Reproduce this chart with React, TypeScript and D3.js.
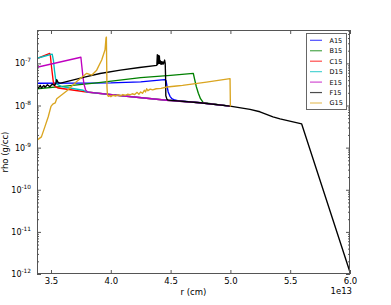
import React, { useRef, useEffect } from 'react';
import * as d3 from 'd3';

type Pt = [number, number];

// r in units of 1e13 cm, rho in g/cc
// shared tail that every model falls onto after its shell drop
const envelope: Pt[] = [
  [3.548, 2.74e-8], [3.798, 2.09e-8], [4.049, 1.75e-8], [4.467, 1.33e-8],
  [4.746, 1.16e-8], [4.997, 9.7e-9], [5.164, 8.1e-9], [5.247, 7.1e-9],
  [5.356, 5.4e-9], [5.415, 4.8e-9], [5.596, 3.65e-9], [6.0, 1.1e-12],
];

const a15: Pt[] = [
  [3.383, 3.37e-8], [4.0, 3.45e-8], [4.25, 3.65e-8], [4.45, 4.1e-8],
  [4.462, 3.9e-8], [4.47, 2.9e-8], [4.48, 2.1e-8], [4.495, 1.65e-8],
  [4.51, 1.45e-8], [4.535, 1.35e-8], [4.56, 1.3e-8],
];
const b15: Pt[] = [
  [3.383, 2.5e-8], [3.6, 2.85e-8], [3.9, 3.5e-8], [4.25, 4.6e-8],
  [4.5, 5.2e-8], [4.69, 5.8e-8], [4.7, 4.3e-8], [4.715, 2.8e-8],
  [4.732, 1.95e-8], [4.75, 1.45e-8], [4.773, 1.17e-8],
];
const c15: Pt[] = [
  [3.383, 1.3e-7], [3.49, 1.72e-7], [3.495, 1.5e-7], [3.505, 8e-8],
  [3.519, 3.7e-8], [3.533, 2.85e-8], [3.561, 2.6e-8],
];
const d15: Pt[] = [
  [3.383, 1.32e-7], [3.51, 1.65e-7], [3.52, 1.2e-7], [3.53, 6.5e-8],
  [3.54, 4.0e-8], [3.55, 3.2e-8], [3.59, 2.8e-8], [3.77, 2.3e-8],
];
const e15: Pt[] = [
  [3.383, 8.1e-8], [3.75, 1.4e-7], [3.757, 9e-8], [3.765, 5.5e-8],
  [3.775, 3.3e-8], [3.79, 2.3e-8], [3.81, 2.07e-8],
];
const f15: Pt[] = [
  [3.383, 2.8e-8], [3.395, 2.6e-8], [3.41, 3.0e-8], [3.42, 2.6e-8],
  [3.44, 3.0e-8], [3.45, 2.7e-8], [3.47, 3.1e-8], [3.49, 2.8e-8],
  [3.51, 3.2e-8], [3.53, 3.0e-8], [3.54, 3.3e-8], [3.548, 4.1e-8],
  [3.56, 3.5e-8], [3.58, 3.4e-8], [3.78, 4.7e-8], [3.91, 5.75e-8],
  [4.08, 6.9e-8], [4.24, 8.0e-8], [4.385, 9.0e-8], [4.389, 1.6e-7],
  [4.392, 9.5e-8], [4.398, 1.55e-7], [4.402, 1.0e-7], [4.406, 1.5e-7],
  [4.41, 1.0e-7], [4.415, 1.15e-7], [4.42, 9.5e-8], [4.425, 1.1e-7],
  [4.43, 9.6e-8], [4.435, 1.08e-7], [4.44, 9.7e-8], [4.445, 1.05e-7],
  [4.45, 1.2e-7], [4.455, 1.0e-7], [4.458, 5e-8], [4.46, 1.7e-8],
  [4.47, 1.4e-8], [4.48, 1.34e-8],
];
const g15: Pt[] = [
  [3.383, 1.5e-9], [3.42, 1.8e-9], [3.45, 3.2e-9], [3.477, 5.4e-9],
  [3.5, 9.5e-9], [3.515, 1.08e-8], [3.535, 1.15e-8], [3.548, 1.45e-8],
  [3.631, 2.2e-8], [3.715, 3.7e-8], [3.799, 5.8e-8], [3.84, 5.25e-8],
  [3.882, 6.9e-8], [3.924, 1.2e-7], [3.952, 2.1e-7], [3.96, 4.0e-7],
  [3.963, 4.2e-7], [3.968, 2.8e-8], [3.972, 1.78e-8], [3.98, 1.65e-8],
  [3.99, 1.72e-8], [4.0, 1.62e-8], [4.02, 1.75e-8], [4.04, 1.68e-8],
  [4.06, 1.78e-8], [4.08, 1.7e-8], [4.1, 1.82e-8], [4.12, 1.75e-8],
  [4.14, 1.85e-8], [4.16, 1.8e-8], [4.18, 1.9e-8], [4.2, 1.82e-8],
  [4.22, 2.05e-8], [4.235, 1.85e-8], [4.25, 2.1e-8], [4.265, 1.95e-8],
  [4.28, 2.3e-8], [4.29, 2.1e-8], [4.3, 2.5e-8], [4.31, 2.25e-8],
  [4.33, 2.45e-8], [4.35, 2.35e-8], [4.38, 2.5e-8], [4.42, 2.55e-8],
  [4.47, 2.75e-8], [4.55, 2.9e-8], [4.6, 3.0e-8], [4.8, 3.6e-8],
  [4.997, 4.35e-8], [5.0, 9.5e-9],
];

const names = ['A15', 'B15', 'C15', 'D15', 'E15', 'F15', 'G15'];
const colors = ['#0000ff', '#008000', '#ff0000', '#00bfbf', '#bf00bf', '#000000', '#daa520'];
const xTicks = [3.5, 4.0, 4.5, 5.0, 5.5, 6.0];
const yTicks = [1e-12, 1e-11, 1e-10, 1e-9, 1e-8, 1e-7];
const yExps = ['-12', '-11', '-10', '-9', '-8', '-7'];

const withTail = (head: Pt[], end: number): Pt[] => {
  const last = head[head.length - 1][0];
  return head.concat(envelope.filter(([r]) => r > last && r <= end));
};

const series: Pt[][] = [
  withTail(a15, 5.0),
  withTail(b15, 5.0),
  withTail(c15, 5.0),
  withTail(d15, 5.0),
  withTail(e15, 5.0),
  withTail(f15, 6.0),
  g15,
];

const W = 391;
const H = 305;
const margin = { top: 30, right: 41, bottom: 31, left: 37 };
const font = 'DejaVu Sans, sans-serif';

const App: React.FC = () => {
  const ref = useRef<SVGSVGElement | null>(null);

  useEffect(() => {
    if (!ref.current) return;
    const svg = d3.select(ref.current);
    svg.selectAll('*').remove();
    const x0 = margin.left;
    const x1 = W - margin.right;
    const y0 = H - margin.bottom;
    const y1 = margin.top;

    const x = d3.scaleLinear().domain([3.383, 6.0]).range([x0, x1]);
    const y = d3.scaleLog().domain([1e-12, 6.2e-7]).range([y0, y1]);

    svg
      .append('clipPath')
      .attr('id', 'plot-clip')
      .append('rect')
      .attr('x', x0)
      .attr('y', y1)
      .attr('width', x1 - x0)
      .attr('height', y0 - y1);

    const line = d3
      .line<Pt>()
      .x((d) => x(d[0]))
      .y((d) => y(d[1]));

    const lines = svg.append('g').attr('clip-path', 'url(#plot-clip)');
    series.forEach((s, i) => {
      lines
        .append('path')
        .datum(s)
        .attr('fill', 'none')
        .attr('stroke', colors[i])
        .attr('stroke-width', 1.35)
        .attr('stroke-linejoin', 'round')
        .attr('d', line);
    });

    const minor = y.ticks().filter((v) => !yTicks.some((t) => Math.abs(v / t - 1) < 1e-6));
    const tickColor = '#555';
    const style = (g: d3.Selection<SVGGElement, unknown, null, undefined>) => {
      g.select('.domain').remove();
      g.selectAll('line').attr('stroke', tickColor);
      g.selectAll('text').attr('font-family', font).attr('font-size', 8.5).attr('fill', '#000');
    };

    svg
      .append('g')
      .attr('transform', `translate(0,${y0})`)
      .call(d3.axisBottom(x).tickValues(xTicks).tickSize(-4).tickPadding(4).tickFormat(d3.format('.1f')))
      .call(style);
    svg
      .append('g')
      .attr('transform', `translate(0,${y1})`)
      .call(d3.axisTop(x).tickValues(xTicks).tickSize(-4).tickFormat(() => ''))
      .call(style);
    svg
      .append('g')
      .attr('transform', `translate(${x0},0)`)
      .call(d3.axisLeft(y).tickValues(yTicks).tickSize(-4).tickFormat(() => ''))
      .call(style);
    svg
      .append('g')
      .attr('transform', `translate(${x0},0)`)
      .call(d3.axisLeft(y).tickValues(minor).tickSize(-2).tickFormat(() => ''))
      .call(style);
    svg
      .append('g')
      .attr('transform', `translate(${x1},0)`)
      .call(d3.axisRight(y).tickValues(yTicks).tickSize(-4).tickFormat(() => ''))
      .call(style);
    svg
      .append('g')
      .attr('transform', `translate(${x1},0)`)
      .call(d3.axisRight(y).tickValues(minor).tickSize(-2).tickFormat(() => ''))
      .call(style);

    // y tick labels as 10^n
    yTicks.forEach((t, i) => {
      const txt = svg
        .append('text')
        .attr('x', x0 - 6)
        .attr('y', y(t) + 3)
        .attr('text-anchor', 'end')
        .attr('font-family', font)
        .attr('font-size', 8);
      txt.append('tspan').text('10');
      txt.append('tspan').attr('dy', -4).attr('font-size', 5.8).text(yExps[i]);
    });

    svg
      .append('rect')
      .attr('x', x0 + 0.5)
      .attr('y', y1 + 0.5)
      .attr('width', x1 - x0 - 1)
      .attr('height', y0 - y1 - 1)
      .attr('fill', 'none')
      .attr('stroke', tickColor)
      .attr('stroke-width', 1);

    svg
      .append('text')
      .attr('x', (x0 + x1) / 2)
      .attr('y', 295)
      .attr('text-anchor', 'middle')
      .attr('font-family', font)
      .attr('font-size', 8.5)
      .text('r (cm)');
    svg
      .append('text')
      .attr('x', x1 + 2)
      .attr('y', 294)
      .attr('text-anchor', 'end')
      .attr('font-family', font)
      .attr('font-size', 8.5)
      .text('1e13');
    svg
      .append('text')
      .attr('transform', `translate(8,${(y0 + y1) / 2}) rotate(-90)`)
      .attr('text-anchor', 'middle')
      .attr('font-family', font)
      .attr('font-size', 8.5)
      .text('rho (g/cc)');

    // legend
    const lg = svg.append('g').attr('transform', 'translate(306,33)');
    lg.append('rect')
      .attr('x', 0.5)
      .attr('y', 0.5)
      .attr('width', 40)
      .attr('height', 76)
      .attr('fill', '#fff')
      .attr('stroke', '#666')
      .attr('stroke-width', 1);
    names.forEach((n, i) => {
      const cy = 7.3 + i * 10.45;
      lg.append('line')
        .attr('x1', 4)
        .attr('x2', 16)
        .attr('y1', cy)
        .attr('y2', cy)
        .attr('stroke', colors[i])
        .attr('stroke-opacity', 0.7)
        .attr('stroke-width', 1.2);
      lg.append('text')
        .attr('x', 23.5)
        .attr('y', cy + 2.4)
        .attr('font-family', font)
        .attr('font-size', 6.5)
        .text(n);
    });
  }, []);

  return (
    <div style={{ position: 'absolute', left: 0, top: 0 }}>
      <svg ref={ref} width={W} height={H} style={{ display: 'block', background: '#fff' }} />
    </div>
  );
};

export default App;
